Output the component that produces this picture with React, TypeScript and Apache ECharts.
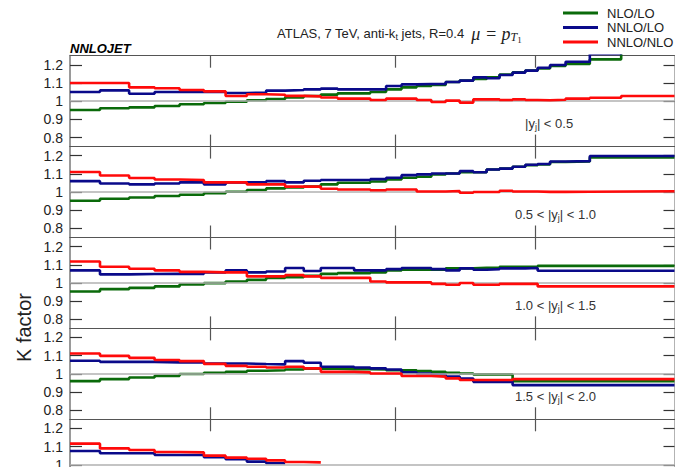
import React, { useEffect, useRef } from 'react';
import * as echarts from 'echarts';

// ---- axes ----
const X_MIN = 100;
const X_MAX = 1992;
const xTickValues = [200, 500, 1000];
const Y_MIN = 0.75;
const Y_MAX = 1.25;
const yTickValues = [0.8, 0.9, 1.0, 1.1, 1.2];
const yTickLabels = ['0.8', '0.9', '1', '1.1', '1.2'];

// ---- series ----
const seriesNames = ['NLO/LO', 'NNLO/LO', 'NNLO/NLO'];
const seriesColors = ['#0a6a0a', '#0a0a8a', '#ff0a0a'];

const panelLabels = [
  '|y{s|j}| < 0.5',
  '0.5 < |y{s|j}| < 1.0',
  '1.0 < |y{s|j}| < 1.5',
  '1.5 < |y{s|j}| < 2.0',
  '',
];

// |y| < 0.5
const edgesY1 = [100, 116, 134, 152, 172, 194, 216, 240, 264, 290, 318, 346, 376, 408, 442, 478, 516, 556, 598, 642, 688, 736, 786, 838, 894, 952, 1012, 1076, 1162, 1310, 1530, 1992];
const nloY1 = [0.951, 0.961, 0.966, 0.973, 0.983, 0.990, 0.997, 1.005, 1.012, 1.021, 1.028, 1.036, 1.043, 1.043, 1.050, 1.065, 1.076, 1.083, 1.089, 1.105, 1.113, 1.122, 1.131, 1.146, 1.159, 1.168, 1.180, 1.193, 1.204, 1.230, 1.270];
const nnloY1 = [1.050, 1.059, 1.041, 1.050, 1.050, 1.050, 1.045, 1.047, 1.058, 1.061, 1.065, 1.069, 1.065, 1.065, 1.065, 1.083, 1.092, 1.094, 1.094, 1.105, 1.113, 1.131, 1.126, 1.144, 1.157, 1.168, 1.184, 1.199, 1.217, 1.260, 1.280];
const ratioY1 = [1.100, 1.100, 1.076, 1.071, 1.061, 1.054, 1.028, 1.038, 1.035, 1.029, 1.026, 1.020, 1.014, 1.014, 1.006, 1.014, 1.014, 1.006, 0.995, 1.003, 0.992, 1.010, 1.010, 1.006, 1.010, 1.006, 1.005, 1.008, 1.014, 1.019, 1.028];

// 0.5 < |y| < 1.0
const edgesY2 = [100, 116, 134, 152, 172, 194, 216, 240, 264, 290, 318, 346, 376, 408, 442, 478, 516, 556, 598, 642, 688, 736, 786, 838, 894, 952, 1012, 1076, 1162, 1310, 1992];
const nloY2 = [0.952, 0.963, 0.970, 0.978, 0.985, 0.994, 1.002, 1.011, 1.020, 1.025, 1.030, 1.042, 1.051, 1.051, 1.058, 1.069, 1.079, 1.084, 1.097, 1.102, 1.109, 1.109, 1.124, 1.129, 1.139, 1.148, 1.152, 1.165, 1.168, 1.190];
const nnloY2 = [1.060, 1.047, 1.042, 1.047, 1.053, 1.042, 1.053, 1.053, 1.060, 1.053, 1.062, 1.066, 1.066, 1.066, 1.071, 1.079, 1.093, 1.097, 1.102, 1.102, 1.115, 1.109, 1.124, 1.129, 1.139, 1.150, 1.154, 1.168, 1.170, 1.198];
const ratioY2 = [1.110, 1.091, 1.077, 1.069, 1.066, 1.053, 1.053, 1.042, 1.042, 1.030, 1.030, 1.018, 1.014, 1.014, 1.010, 1.014, 1.014, 1.003, 1.003, 1.006, 0.996, 1.000, 1.000, 1.007, 1.003, 1.003, 1.001, 1.001, 1.002, 1.004];

// 1.0 < |y| < 1.5
const edgesY3 = [100, 116, 134, 152, 172, 194, 216, 240, 264, 290, 318, 346, 376, 408, 442, 478, 516, 556, 598, 642, 688, 736, 786, 838, 894, 952, 1012, 1992];
const nloY3 = [0.953, 0.966, 0.973, 0.981, 0.992, 0.999, 1.008, 1.017, 1.027, 1.032, 1.039, 1.050, 1.054, 1.054, 1.058, 1.069, 1.073, 1.073, 1.073, 1.080, 1.080, 1.083, 1.083, 1.089, 1.089, 1.089, 1.094];
const nnloY3 = [1.069, 1.047, 1.049, 1.050, 1.050, 1.058, 1.069, 1.058, 1.063, 1.082, 1.066, 1.082, 1.082, 1.069, 1.069, 1.076, 1.082, 1.082, 1.076, 1.069, 1.080, 1.073, 1.076, 1.080, 1.080, 1.082, 1.067];
const ratioY3 = [1.118, 1.089, 1.078, 1.069, 1.061, 1.058, 1.058, 1.036, 1.036, 1.043, 1.036, 1.028, 1.028, 1.028, 1.008, 1.003, 1.003, 1.003, 0.995, 0.990, 1.000, 0.990, 0.990, 0.995, 0.995, 0.995, 0.981];

// 1.5 < |y| < 2.0
const edgesY4 = [100, 116, 134, 152, 172, 194, 216, 240, 264, 290, 318, 346, 376, 408, 442, 478, 516, 556, 598, 642, 688, 736, 786, 838, 894, 1992];
const nloY4 = [0.960, 0.971, 0.980, 0.989, 0.999, 1.006, 1.011, 1.017, 1.020, 1.024, 1.028, 1.028, 1.026, 1.026, 1.024, 1.020, 1.020, 1.015, 1.011, 1.006, 1.002, 0.997, 0.997, 0.997, 0.960];
const nnloY4 = [1.072, 1.066, 1.066, 1.063, 1.063, 1.057, 1.057, 1.054, 1.052, 1.070, 1.061, 1.039, 1.039, 1.035, 1.030, 1.024, 1.008, 1.002, 0.997, 0.985, 0.974, 0.956, 0.956, 0.956, 0.938];
const ratioY4 = [1.112, 1.099, 1.088, 1.076, 1.070, 1.055, 1.044, 1.039, 1.035, 1.039, 1.030, 1.011, 1.011, 1.008, 1.002, 1.002, 0.988, 0.988, 0.985, 0.975, 0.966, 0.966, 0.966, 0.966, 0.971];

// 2.0 < |y| < 2.5 (cut off)
const edgesY5 = [100, 116, 134, 152, 172, 194, 216, 240, 264, 290, 318, 346];
const nloY5: number[] = [];
const nnloY5 = [1.076, 1.063, 1.063, 1.054, 1.054, 1.041, 1.030, 1.017, 1.008];
const ratioY5 = [1.116, 1.090, 1.081, 1.070, 1.068, 1.050, 1.039, 1.033, 1.024, 1.015, 1.013];

const panels = [
  { edges: edgesY1, values: [nloY1, nnloY1, ratioY1] },
  { edges: edgesY2, values: [nloY2, nnloY2, ratioY2] },
  { edges: edgesY3, values: [nloY3, nnloY3, ratioY3] },
  { edges: edgesY4, values: [nloY4, nnloY4, ratioY4] },
  { edges: edgesY5, values: [nloY5, nnloY5, ratioY5] },
];

const GRID_LEFT = 70;
const GRID_WIDTH = 604.5;
const PANEL_TOP = 55.7;
const PANEL_H = 90.9;
const FONT = '"Liberation Sans", Arial, sans-serif';

function histData(edges: number[], vals: number[]) {
  const pts: number[][] = vals.map((v, i) => [Math.log10(edges[i]), v]);
  if (vals.length) pts.push([Math.log10(edges[vals.length]), vals[vals.length - 1]]);
  return pts;
}

export default function App() {
  const ref = useRef<HTMLDivElement>(null);
  useEffect(() => {
    if (!ref.current) return;
    const chart = echarts.init(ref.current, undefined, { renderer: 'svg' });
    const grids: any[] = [];
    const xAxes: any[] = [];
    const yAxes: any[] = [];
    const series: any[] = [];
    const graphics: any[] = [];
    const xTicks = xTickValues.map((v) => Math.log10(v));

    panels.forEach((p, i) => {
      const top = PANEL_TOP + i * PANEL_H;
      grids.push({ left: GRID_LEFT, top, width: GRID_WIDTH, height: PANEL_H });
      ['bottom', 'top'].forEach((pos) => {
        xAxes.push({
          type: 'value',
          gridIndex: i,
          position: pos,
          min: Math.log10(X_MIN),
          max: Math.log10(X_MAX),
          axisLine: { show: true, onZero: false, lineStyle: { color: '#555', width: 1 } },
          axisTick: { show: true, inside: true, length: 12, customValues: xTicks, lineStyle: { color: '#555', width: 1.2 } },
          axisLabel: { show: false },
          splitLine: { show: false },
        });
      });
      yAxes.push({
        type: 'value',
        gridIndex: i,
        position: 'left',
        min: Y_MIN,
        max: Y_MAX,
        axisLine: { show: true, onZero: false, lineStyle: { color: '#9a9a9a', width: 2 } },
        axisTick: { show: true, inside: true, length: 12, customValues: yTickValues, lineStyle: { color: '#333', width: 1.2 } },
        axisLabel: {
          show: true,
          customValues: yTickValues,
          formatter: (v: number) => {
            const k = yTickValues.findIndex((t) => Math.abs(t - v) < 1e-9);
            return k >= 0 ? yTickLabels[k] : String(v);
          },
          fontSize: 14,
          color: '#222',
          fontFamily: FONT,
          margin: 7,
        },
        splitLine: { show: false },
      });
      yAxes.push({
        type: 'value',
        gridIndex: i,
        position: 'right',
        min: Y_MIN,
        max: Y_MAX,
        axisLine: { show: true, onZero: false, lineStyle: { color: '#9a9a9a', width: 1.5 } },
        axisTick: { show: true, inside: true, length: 11, customValues: yTickValues, lineStyle: { color: '#333', width: 1.2 } },
        axisLabel: { show: false },
        splitLine: { show: false },
      });
      // reference line at 1
      series.push({
        type: 'line',
        xAxisIndex: 2 * i,
        yAxisIndex: 2 * i,
        data: [[Math.log10(X_MIN), 1]],
        symbol: 'none',
        lineStyle: { opacity: 0 },
        z: 1,
        silent: true,
        markLine: {
          silent: true,
          symbol: 'none',
          label: { show: false },
          lineStyle: { color: '#b0b0b0', width: 1.5, type: 'solid' },
          data: [{ yAxis: 1 }],
        },
      });
      p.values.forEach((vals, k) => {
        if (!vals.length) return;
        series.push({
          type: 'line',
          name: seriesNames[k],
          xAxisIndex: 2 * i,
          yAxisIndex: 2 * i,
          data: histData(p.edges, vals),
          step: 'end',
          symbol: 'none',
          clip: true,
          z: 3 + k,
          lineStyle: { color: seriesColors[k], width: 2.6 },
          itemStyle: { color: seriesColors[k] },
        });
      });
      if (panelLabels[i]) {
        graphics.push({
          type: 'text',
          x: i === 0 ? 525 : 515,
          y: top + 68,
          silent: true,
          style: {
            text: panelLabels[i],
            fontSize: 13,
            fontFamily: FONT,
            fill: '#333',
            align: 'left',
            verticalAlign: 'middle',
            rich: {
              s: { fontSize: 9, fontFamily: FONT, fill: '#333', padding: [7, 0, 0, 0], lineHeight: 9 },
            },
          },
        });
      }
    });

    graphics.push({
      type: 'text',
      x: 70,
      y: 48,
      silent: true,
      style: {
        text: 'NNLOJET',
        fontSize: 13,
        fontWeight: 'bold',
        fontStyle: 'italic',
        fontFamily: FONT,
        fill: '#000',
        align: 'left',
        verticalAlign: 'middle',
      },
    });
    graphics.push({
      type: 'text',
      x: 277,
      y: 33.5,
      silent: true,
      style: {
        text: 'ATLAS, 7 TeV, anti-k{s|t} jets, R=0.4  {m|μ = p}{mt|T}{m1|1}',
        fontSize: 13,
        fontFamily: FONT,
        fill: '#222',
        align: 'left',
        verticalAlign: 'middle',
        rich: {
          s: { fontSize: 9, fontFamily: FONT, fill: '#222', padding: [7, 0, 0, 0], lineHeight: 9 },
          m: { fontSize: 18, fontFamily: '"Liberation Serif", serif', fontStyle: 'italic', fill: '#222' },
          mt: { fontSize: 12, fontFamily: '"Liberation Serif", serif', fontStyle: 'italic', fill: '#222', padding: [7, 0, 0, 0], lineHeight: 12 },
          m1: { fontSize: 9, fontFamily: '"Liberation Serif", serif', fill: '#222', padding: [13, 0, 0, 0], lineHeight: 9 },
        },
      },
    });
    graphics.push({
      type: 'text',
      x: 24,
      y: 327.5,
      rotation: Math.PI / 2,
      silent: true,
      style: {
        text: 'K factor',
        fontSize: 20,
        fontFamily: FONT,
        fill: '#222',
        align: 'center',
        verticalAlign: 'middle',
      },
    });

    chart.setOption({
      animation: false,
      backgroundColor: '#fff',
      grid: grids,
      xAxis: xAxes,
      yAxis: yAxes,
      series,
      graphic: graphics,
      legend: {
        data: seriesNames,
        orient: 'vertical',
        left: 563,
        top: 6,
        padding: 0,
        itemWidth: 35,
        itemHeight: 3,
        itemGap: 0.5,
        icon: 'rect',
        selectedMode: false,
        textStyle: { fontSize: 13, color: '#222', fontFamily: FONT, lineHeight: 14, padding: [0, 0, 0, 4] },
      },
    });
    return () => chart.dispose();
  }, []);
  return (
    <div style={{ position: 'fixed', left: 0, top: 0, width: 675, height: 467, overflow: 'hidden', background: '#fff' }}>
      <div ref={ref} style={{ width: 675, height: 520 }} />
    </div>
  );
}
